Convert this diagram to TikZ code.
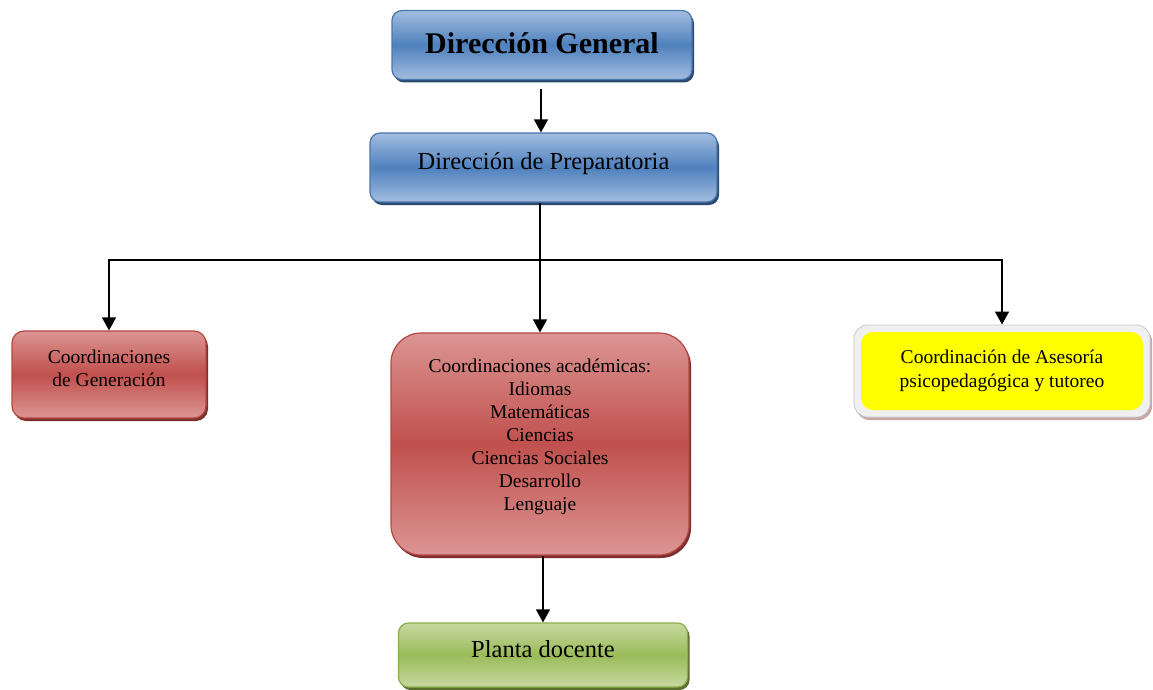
\documentclass[tikz,border=0pt]{standalone}
\usepackage{fontspec}
\setmainfont{Liberation Serif}
\usetikzlibrary{arrows.meta,shadows,fit,backgrounds}
\definecolor{bluemid}{HTML}{4F81BD}
\definecolor{blueedge}{HTML}{A3BDE0}
\definecolor{blueline}{HTML}{4A76AE}
\definecolor{blueshadow}{HTML}{2A4A72}
\definecolor{redmid}{HTML}{C0504D}
\definecolor{rededge}{HTML}{DB9593}
\definecolor{redline}{HTML}{B54744}
\definecolor{redshadow}{HTML}{7E2F2D}
\definecolor{greenmid}{HTML}{9BBB59}
\definecolor{greenedge}{HTML}{C6D9A0}
\definecolor{greenline}{HTML}{8AAE4C}
\definecolor{greenshadow}{HTML}{5A6F2E}
\definecolor{yel}{HTML}{FFFF00}
\definecolor{framefill}{HTML}{F0F0F0}
\definecolor{frameline}{HTML}{C8C8C8}
\definecolor{frameshadow}{HTML}{C9A6A6}
\tikzset{
  box/.style={rectangle, rounded corners=10pt, inner sep=0pt, align=center, line width=1.2pt},
  bluebox/.style={box, draw=blueline, top color=blueedge, bottom color=blueedge, middle color=bluemid,
    drop shadow={shadow xshift=2pt, shadow yshift=-3pt, fill=blueshadow, opacity=1}},
  redbox/.style={box, draw=redline, top color=rededge, bottom color=rededge, middle color=redmid,
    drop shadow={shadow xshift=2pt, shadow yshift=-3pt, fill=redshadow, opacity=1}},
  greenbox/.style={box, draw=greenline, top color=greenedge, bottom color=greenedge, middle color=greenmid,
    drop shadow={shadow xshift=2pt, shadow yshift=-3pt, fill=greenshadow, opacity=1}},
  yelbox/.style={box, fill=yel, rounded corners=12pt},
  framebox/.style={rectangle, rounded corners=14pt, fill=framefill, draw=frameline, line width=0.8pt,
    drop shadow={shadow xshift=2pt, shadow yshift=-3pt, fill=frameshadow, opacity=1}},
  arr/.style={line width=1.4pt, -{Triangle[length=13pt,width=14pt]}},
  big/.style={font=\fontsize{30}{34}\selectfont\bfseries, text height=20pt, text depth=2pt},
  mid/.style={font=\fontsize{24.5}{28}\selectfont, text height=17pt, text depth=13pt},
  small/.style={font=\fontsize{19.5}{23}\selectfont},
  smallb/.style={font=\fontsize{19.5}{24}\selectfont},
}
\begin{document}
\begin{tikzpicture}[x=1pt,y=-1pt]
\useasboundingbox (0,0) rectangle (1153,690);
\node[bluebox, big, minimum width=300pt, minimum height=69pt] (dg) at (542,45) {Dirección General};
\node[bluebox, mid, minimum width=347pt, minimum height=69pt] (dp) at (543.5,167.5) {Dirección de Preparatoria};
\node[redbox, small, minimum width=194pt, minimum height=87pt, rounded corners=12pt] (cg) at (109,374.5) {Coordinaciones\\de Generación\\[-10pt]\mbox{}};
\node[redbox, small, minimum width=298pt, minimum height=222pt, rounded corners=30pt] (ca) at (540,444)
  {Coordinaciones académicas:\\Idiomas\\Matemáticas\\Ciencias\\Ciencias Sociales\\Desarrollo\\Lenguaje\\[-4pt]\mbox{}};
\node[greenbox, mid, minimum width=289pt, minimum height=64pt] (pd) at (543,655) {Planta docente};
\node[yelbox, smallb, minimum width=282pt, minimum height=78pt] (ase) at (1002,371) {Coordinación de Asesoría\\psicopedagógica y tutoreo};
\begin{scope}[on background layer]
\node[framebox, fit=(ase), inner sep=6.5pt] (asef) {};
\end{scope}
\coordinate (j) at (540,260);
\draw[arr, shorten <=9pt] (dg.south -| 541,0) -- (dp.north -| 541,0);
\draw[arr] (dp.south -| ca.north) -- (ca.north);
\draw[arr] (j) -| (cg.north);
\draw[arr] (j) -| (asef.north);
\draw[arr] (ca.south -| pd.north) -- (pd.north);
\end{tikzpicture}
\end{document}
